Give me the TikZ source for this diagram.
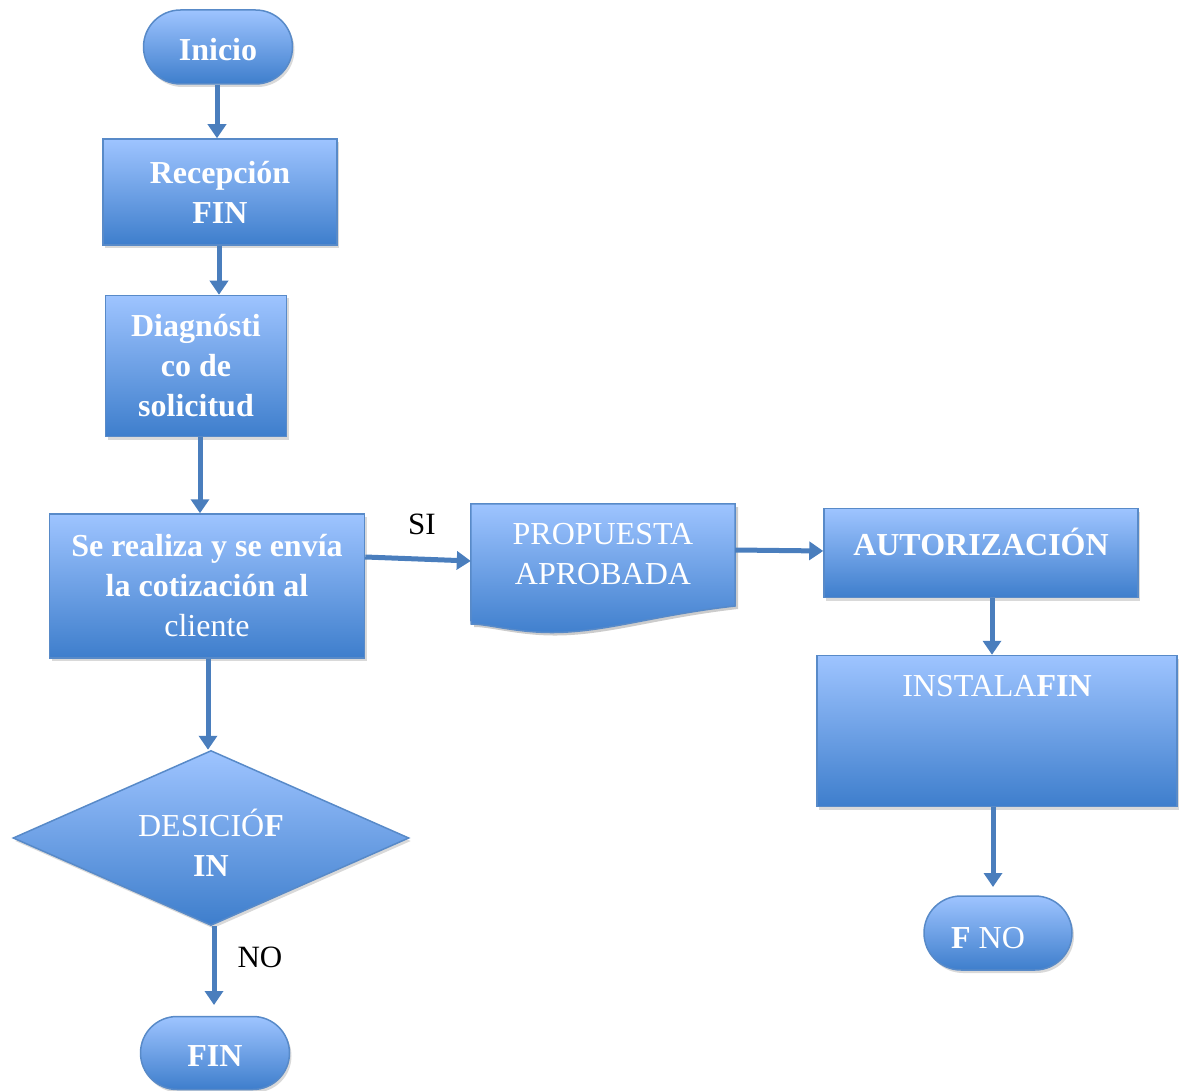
\documentclass[tikz,border=0pt]{standalone}
\usepackage{fontspec}
\setmainfont{Liberation Serif}
\usetikzlibrary{arrows.meta,shapes.geometric,shapes.misc,shadows,positioning}
\definecolor{boxtop}{RGB}{158,196,255}
\definecolor{boxbot}{RGB}{62,126,204}
\definecolor{boxline}{RGB}{88,138,200}
\definecolor{arrowc}{RGB}{74,126,189}
\tikzset{
  fbox/.style={draw=boxline, line width=1.5pt, top color=boxtop, bottom color=boxbot,
    drop shadow={opacity=0.3, shadow xshift=2pt, shadow yshift=-3pt},
    text=white, align=center, inner sep=0pt,
    font=\fontsize{32}{40}\selectfont},
  stadium/.style={fbox, rounded rectangle},
  txt/.style={text=white, align=center, inner sep=0pt, font=\fontsize{32}{40}\selectfont},
  lbl/.style={text=black, inner sep=0pt, font=\fontsize{31}{40}\selectfont},
  conn/.style={draw=arrowc, line width=5pt, -{Triangle[width=18pt,length=14pt]}}
}
\begin{document}
\begin{tikzpicture}[x=1pt,y=-1pt]
\useasboundingbox (0,0) rectangle (1184,1091);

\node[stadium, minimum width=149pt, minimum height=74pt] (ini) at (218,47) {};
\node[txt] at (218,50) {\textbf{Inicio}};
\node[fbox, minimum width=234pt, minimum height=106pt] (rec) at (220,192) {\textbf{Recepción}\\\textbf{FIN}};
\node[fbox, minimum width=181pt, minimum height=141pt] (dia) at (196,366) {\textbf{Diagnósti}\\\textbf{co de}\\\textbf{solicitud}};
\node[fbox, minimum width=315pt, minimum height=144pt] (coti) at (207,586) {\textbf{Se realiza y se envía}\\\textbf{la cotización al}\\cliente};
\node[fbox, shape=diamond, minimum width=396pt, minimum height=175pt, aspect=2.26] (dec) at (211,838) {};
\node[txt] at (211,843) {DESICIÓ\textbf{F}\\\textbf{IN}};
\node[stadium, minimum width=149pt, minimum height=73pt] (fin) at (215,1053) {};
\node[txt] at (215,1056) {\textbf{FIN}};

% document shape
\node[minimum width=264pt, minimum height=102pt, inner sep=0pt] (prop) at (603,555) {};
\fill[black, opacity=0.2] (474,507) -- (738,507) -- (738,609) .. controls (649,619) and (599,639) .. (539,635) .. controls (509,633) and (489,627) .. (474,627) -- cycle;
\path[draw=boxline, line width=1.5pt, top color=boxtop, bottom color=boxbot]
  (prop.north west) -- (prop.north east) -- (735,606) .. controls (646,616) and (596,636) .. (536,632) .. controls (506,630) and (486,624) .. (471,624) -- cycle;
\node[txt] at (603,554) {PROPUESTA\\APROBADA};

\node[fbox, minimum width=314pt, minimum height=89pt] (aut) at (981,553) {};
\node[txt] at (981,542) {\textbf{AUTORIZACIÓN}};
\node[fbox, minimum width=360pt, minimum height=151pt] (ins) at (997,731) {};
\node[txt] at (997,686) {INSTALA\textbf{FIN}};
\node[stadium, minimum width=148pt, minimum height=74pt] (fno) at (998,933) {};
\node[txt] at (988,938) {\textbf{F} NO};

\draw[conn] (ini.south -| 217,0) -- (rec.north -| 217,0);
\draw[conn] (rec.south -| 219,0) -- (dia.north -| 219,0);
\draw[conn] (dia.south -| 200,0) -- (coti.north -| 200,0);
\draw[conn] (coti.south -| 208,0) -- (dec.north -| 208,0);
\draw[conn] (dec.south -| 214,0) -- (214,1005);
\draw[conn] (coti.east |- 0,557) -- (prop.west |- 0,561);
\draw[conn] (prop.east |- 0,550) -- (aut.west |- 0,551);
\draw[conn] (aut.south -| 992,0) -- (ins.north -| 992,0);
\draw[conn] (ins.south -| 993,0) -- (993,887);

\node[lbl] at (422,524) {SI};
\node[lbl] at (260,957) {NO};
\end{tikzpicture}
\end{document}
